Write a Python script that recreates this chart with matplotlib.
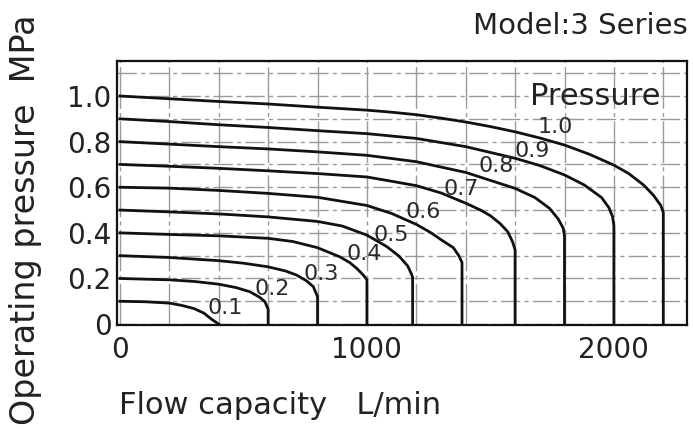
import matplotlib
matplotlib.use("Agg")
import matplotlib.pyplot as plt
from matplotlib.ticker import MultipleLocator, FixedLocator

plt.rcParams['font.family'] = ['DejaVu Sans']

# ---- data (flow L/min vs operating pressure MPa) ----
pressures = ["0.1", "0.2", "0.3", "0.4", "0.5", "0.6", "0.7", "0.8", "0.9", "1.0"]

flow_01 = [0, 100, 200, 250, 300, 340, 370, 400]
pres_01 = [0.1, 0.098, 0.092, 0.082, 0.068, 0.048, 0.022, 0]

flow_02 = [0, 200, 300, 400, 470, 526, 565, 587, 600, 600]
pres_02 = [0.2, 0.194, 0.187, 0.175, 0.16, 0.142, 0.118, 0.098, 0.065, 0]

flow_03 = [0, 200, 400, 500, 600, 670, 715, 755, 783, 800, 800]
pres_03 = [0.3, 0.292, 0.278, 0.267, 0.251, 0.233, 0.215, 0.19, 0.164, 0.12, 0]

flow_04 = [0, 200, 400, 600, 700, 800, 890, 930, 960, 985, 1000, 1000]
pres_04 = [0.4, 0.393, 0.387, 0.376, 0.362, 0.335, 0.295, 0.27, 0.243, 0.215, 0.195, 0]

flow_05 = [0, 200, 400, 600, 800, 900, 1000, 1080, 1130, 1165, 1180, 1185, 1185]
pres_05 = [0.5, 0.492, 0.483, 0.470, 0.450, 0.430, 0.39, 0.34, 0.298, 0.255, 0.22, 0.205, 0]

flow_06 = [0, 200, 400, 600, 800, 1000, 1100, 1200, 1260, 1300, 1350, 1372, 1385, 1385]
pres_06 = [0.6, 0.596, 0.586, 0.573, 0.556, 0.52, 0.485, 0.437, 0.40, 0.37, 0.335, 0.30, 0.27, 0]

flow_07 = [0, 200, 400, 600, 800, 1000, 1080, 1200, 1300, 1400, 1460, 1500, 1540, 1570, 1590, 1600, 1600]
pres_07 = [0.7, 0.692, 0.683, 0.672, 0.660, 0.645, 0.63, 0.607, 0.575, 0.530, 0.50, 0.475, 0.44, 0.405, 0.36, 0.325, 0]

flow_08 = [0, 200, 400, 600, 800, 1000, 1200, 1400, 1600, 1680, 1740, 1775, 1795, 1800, 1800]
pres_08 = [0.8, 0.789, 0.778, 0.768, 0.755, 0.740, 0.712, 0.665, 0.595, 0.555, 0.507, 0.46, 0.42, 0.385, 0]

flow_09 = [0, 200, 400, 600, 800, 1000, 1200, 1400, 1600, 1700, 1800, 1880, 1950, 1980, 1995, 2000, 2000]
pres_09 = [0.9, 0.888, 0.874, 0.862, 0.848, 0.835, 0.814, 0.778, 0.727, 0.695, 0.654, 0.61, 0.555, 0.51, 0.47, 0.43, 0]

flow_10 = [0, 200, 400, 600, 800, 1000, 1100, 1200, 1300, 1400, 1500, 1600, 1700, 1800, 1900, 2000, 2060, 2120, 2160, 2190, 2200, 2200]
pres_10 = [1.0, 0.988, 0.976, 0.965, 0.951, 0.938, 0.929, 0.918, 0.903, 0.886, 0.866, 0.843, 0.816, 0.785, 0.745, 0.697, 0.66, 0.61, 0.565, 0.52, 0.49, 0]

flows = [flow_01, flow_02, flow_03, flow_04, flow_05, flow_06, flow_07, flow_08, flow_09, flow_10]
press = [pres_01, pres_02, pres_03, pres_04, pres_05, pres_06, pres_07, pres_08, pres_09, pres_10]

# label anchor points (data coords) for each curve
label_x = [425, 615, 814, 988, 1098, 1227, 1380, 1522, 1668, 1761]
label_y = [0.07, 0.154, 0.22, 0.309, 0.39, 0.493, 0.594, 0.693, 0.759, 0.864]

x_ticks = [0, 1000, 2000]
x_tick_labels = ["0", "1000", "2000"]
y_ticks = [0, 0.2, 0.4, 0.6, 0.8, 1.0]
y_tick_labels = ["0", "0.2", "0.4", "0.6", "0.8", "1.0"]

# ---- figure ----
W, H = 693, 430
fig = plt.figure(figsize=(W / 100, H / 100), dpi=100)
fig.patch.set_facecolor("white")
ax = fig.add_axes([117 / W, 1 - 325 / H, (687 - 117) / W, (325 - 61) / H])

ax.set_xlim(-12, 2296)
ax.set_ylim(-0.004, 1.1535)

grid_col = "#9a9a9a"
ax.xaxis.set_major_locator(FixedLocator(x_ticks))
ax.xaxis.set_minor_locator(MultipleLocator(200))
ax.yaxis.set_major_locator(FixedLocator(y_ticks))
ax.yaxis.set_minor_locator(MultipleLocator(0.1))
ax.set_xticklabels(x_tick_labels)
ax.set_yticklabels(y_tick_labels)

ax.xaxis.grid(True, which="both", color=grid_col, lw=1.0, linestyle=(0, (30, 3, 3, 3)))
ax.yaxis.grid(True, which="both", color=grid_col, lw=1.0, linestyle=(0, (14, 3, 3, 3)))
ax.set_axisbelow(True)

txt_col = "#222222"
ax.tick_params(which="both", length=0)
ax.tick_params(axis="x", labelsize=20, pad=8, colors=txt_col)
ax.tick_params(axis="y", labelsize=20, pad=4, colors=txt_col)

for s in ax.spines.values():
    s.set_linewidth(1.6)
    s.set_color("#111111")

for fx, py in zip(flows, press):
    ax.plot(fx, py, color="#111111", lw=2.0, solid_joinstyle="round", zorder=3)

for lab, lx, ly in zip(pressures, label_x, label_y):
    ax.text(lx, ly, lab, fontsize=16, color="#2a2a2a", ha="center", va="center", zorder=4)

ax.text(1923, 1.0, "Pressure", fontsize=22, color=txt_col, ha="center", va="center", zorder=4)

fig.text(26 / W, 1 - 220 / H, "Operating pressure  MPa", rotation=90, fontsize=24,
         ha="center", va="center", color=txt_col)
fig.text(119 / W, 1 - 405 / H, "Flow capacity   L/min", fontsize=22,
         ha="left", va="center", color=txt_col)
fig.text(688 / W, 1 - 26 / H, "Model:3 Series", fontsize=21,
         ha="right", va="center", color=txt_col)

fig.savefig("out.png", dpi=100, facecolor="white")
